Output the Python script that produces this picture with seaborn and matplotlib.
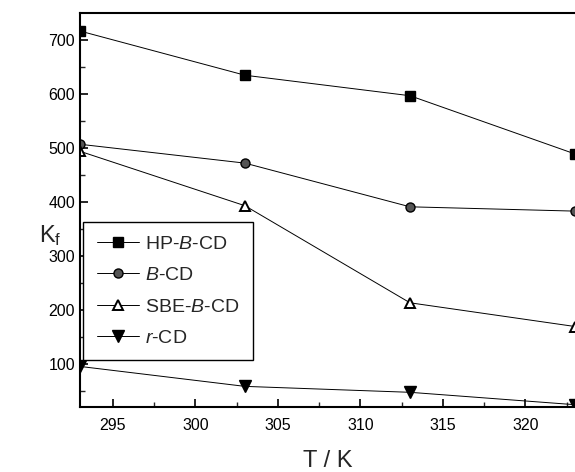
import matplotlib
matplotlib.use("Agg")
import matplotlib.pyplot as plt
import seaborn as sns
import pandas as pd

temps = [293, 303, 313, 323]
hp_bcd = [717, 635, 597, 489]
b_cd = [507, 472, 391, 383]
sbe_bcd = [494, 393, 213, 169]
r_cd = [95, 58, 47, 24]

series_names = ["HP-$\\it{B}$-CD", "$\\it{B}$-CD", "SBE-$\\it{B}$-CD", "$\\it{r}$-CD"]
series_values = [hp_bcd, b_cd, sbe_bcd, r_cd]

sns.set_theme(style="ticks")
plt.rcParams['font.family'] = ['Liberation Sans', 'DejaVu Sans']
plt.rcParams['mathtext.fontset'] = 'custom'
plt.rcParams['mathtext.rm'] = 'Liberation Sans'
plt.rcParams['mathtext.it'] = 'Liberation Sans:italic'

rows = []
for name, vals in zip(series_names, series_values):
    for t, v in zip(temps, vals):
        rows.append({"T": t, "K": v, "series": name})
df = pd.DataFrame(rows)

fig = plt.figure(figsize=(5.75, 4.72), dpi=100)
ax = fig.add_axes([0.139, 0.138, 0.861, 0.834])

marker_styles = {
    series_names[0]: dict(marker="s", mfc="black", mec="black", ms=6.5),
    series_names[1]: dict(marker="o", mfc="#555555", mec="black", ms=6.5),
    series_names[2]: dict(marker="^", mfc="white", mec="black", ms=7.5, mew=1.4),
    series_names[3]: dict(marker="v", mfc="black", mec="black", ms=8.5),
}

for name in series_names:
    sub = df[df["series"] == name]
    st = marker_styles[name]
    sns.lineplot(data=sub, x="T", y="K", ax=ax, color="black", linewidth=0.7,
                 label=name, marker=st["marker"], markerfacecolor=st["mfc"],
                 markeredgecolor=st["mec"], markersize=st["ms"],
                 markeredgewidth=st.get("mew", 1.0))

ax.set_xlim(293, 323)
ax.set_ylim(20, 750)
ax.set_xticks([295, 300, 305, 310, 315, 320])
ax.set_xticks([297.5, 302.5, 307.5, 312.5, 317.5, 322.5], minor=True)
ax.set_yticks([100, 200, 300, 400, 500, 600, 700])
ax.set_yticks([50, 150, 250, 350, 450, 550, 650], minor=True)
ax.tick_params(axis="both", which="major", direction="in", length=6, width=1.2,
               labelsize=11.5, colors="black")
ax.tick_params(axis="both", which="minor", direction="in", length=3.5, width=1.0)
ax.tick_params(axis="x", pad=8)

for s in ["left", "bottom", "top"]:
    ax.spines[s].set_linewidth(1.5)
    ax.spines[s].set_color("black")
ax.spines["right"].set_visible(False)

ax.set_xlabel("T / K", fontsize=17, labelpad=12)
ax.set_ylabel("")
fig.text(0.068, 0.5, "K$_\\mathregular{f}$", fontsize=17, ha="left", va="center")

leg = ax.legend(loc="upper left", bbox_to_anchor=(0.006, 0.47), fontsize=14,
                frameon=True, fancybox=False, edgecolor="black", handlelength=2.2,
                handletextpad=0.3, labelspacing=0.7, borderpad=0.7, borderaxespad=0)
leg.get_frame().set_linewidth(1.0)
leg.get_frame().set_alpha(1)

fig.savefig("out.png", dpi=100)
